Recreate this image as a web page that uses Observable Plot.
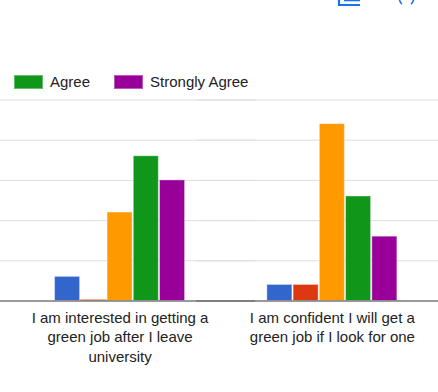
<!DOCTYPE html>
<html>
<head>
<meta charset="utf-8">
<script src="https://cdn.jsdelivr.net/npm/d3@7"></script>
<script src="https://cdn.jsdelivr.net/npm/@observablehq/plot@0.6"></script>
<style>
  html, body { margin: 0; padding: 0; background: #fff; }
  body { width: 438px; height: 392px; overflow: hidden; font-family: "Liberation Sans", Arial, sans-serif; color: #222; }
  #header { position: relative; height: 92px; }
  #legend { position: absolute; left: 14px; top: 75px; display: flex; align-items: center; font-size: 15px; line-height: 14px; }
  .item { display: flex; align-items: center; margin-right: 24px; }
  .sw { width: 27px; height: 12px; margin-right: 7px; border: 1px solid; }
  #icon { position: absolute; left: 0; top: 0; }
  svg { display: block; }
</style>
</head>
<body>
<div id="header">
  <svg id="icon" width="438" height="10">
    <path d="M339 -2 V5 H360" fill="none" stroke="#1a73e8" stroke-width="2.2"/>
    <path d="M344 0.5 H360" fill="none" stroke="#1a73e8" stroke-width="1.6"/>
    <path d="M399 -2 Q400 3 402 4" fill="none" stroke="#1a73e8" stroke-width="1.6"/>
    <path d="M414 -2 Q413 3 411 4" fill="none" stroke="#1a73e8" stroke-width="1.6"/>
  </svg>
  <div id="legend"></div>
</div>
<div id="chart"></div>
<script>
const questions = [
  "I am interested in getting a green job after I leave university",
  "I am confident I will get a green job if I look for one"
];
const questionLabels = [
  "I am interested in getting a\ngreen job after I leave\nuniversity",
  "I am confident I will get a\ngreen job if I look for one"
];
const responses = ["Strongly Disagree", "Disagree", "Neutral", "Agree", "Strongly Agree"];
const interested = [3, 0, 11, 18, 15];
const confident = [2, 2, 22, 13, 8];
const colors = ["#3366cc", "#dc3912", "#ff9900", "#109618", "#990099"];
const yTicks = [5, 10, 15, 20, 25];
const legendShown = ["Agree", "Strongly Agree"];

const series = [interested, confident];
const data = [];
questions.forEach((q, qi) => {
  responses.forEach((r, ri) => {
    data.push({question: q, response: r, value: series[qi][ri]});
  });
});

const labelOf = new Map(questions.map((q, i) => [q, questionLabels[i]]));
const colorOf = new Map(responses.map((r, i) => [r, colors[i]]));

// legend
const legend = document.getElementById("legend");
legendShown.forEach(r => {
  const c = colorOf.get(r);
  const item = document.createElement("div");
  item.className = "item";
  const sw = document.createElement("div");
  sw.className = "sw";
  sw.style.background = c;
  sw.style.borderColor = d3.interpolateRgb(c, "#fff")(0.35);
  const t = document.createElement("span");
  t.textContent = r;
  item.appendChild(sw);
  item.appendChild(t);
  legend.appendChild(item);
});

// rules extend past each facet so that together they span the full width
const spanAll = {insetLeft: -70, insetRight: -70};

const chart = Plot.plot({
  width: 438,
  height: 300,
  marginTop: 7.5,
  marginBottom: 91.5,
  marginLeft: 0,
  marginRight: 0,
  style: {fontFamily: "Liberation Sans, Arial, sans-serif", fontSize: "15px", color: "#222", background: "transparent", overflow: "visible"},
  fx: {domain: questions, paddingInner: 0.382, paddingOuter: 0.2226, align: 0.571, round: false, label: null},
  x: {domain: responses, padding: 0, round: false, axis: null},
  y: {domain: [0, 25], axis: null},
  color: {domain: responses, range: colors},
  marks: [
    Plot.ruleY(yTicks, {y: d => d, stroke: "#dedede", strokeWidth: 1, ...spanAll}),
    Plot.barY(data, {fx: "question", x: "response", y: "value", fill: "response",
      stroke: "#fff", strokeOpacity: 0.4, strokeWidth: 1, insetLeft: 0.6, insetRight: 0.6}),
    Plot.tickY(data.filter(d => d.value === 0), {fx: "question", x: "response", y: "value", stroke: "response", strokeWidth: 1.2, dy: -1, strokeOpacity: 0.7}),
    Plot.ruleY([0], {stroke: "#777", strokeWidth: 1.6, ...spanAll}),
    Plot.axisFx({anchor: "bottom", tickSize: 0, tickPadding: 8, label: null, fontSize: 15, lineHeight: 1.3, fill: "#222",
      tickFormat: q => labelOf.get(q)})
  ]
});
document.getElementById("chart").appendChild(chart);
</script>
</body>
</html>
